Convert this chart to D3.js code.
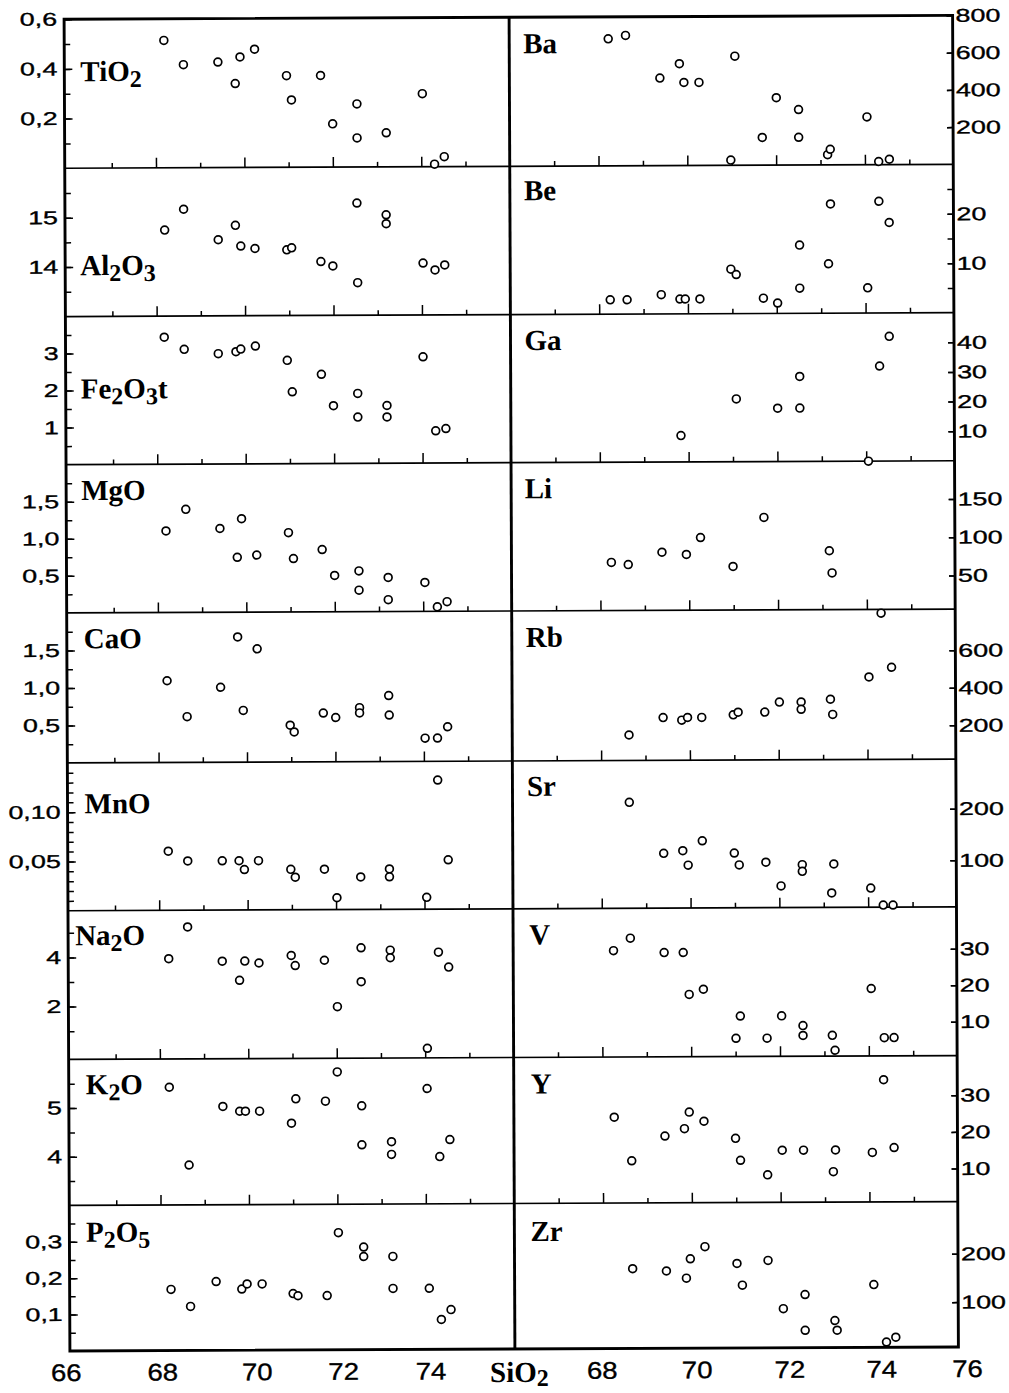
<!DOCTYPE html>
<html>
<head>
<meta charset="utf-8">
<script src="https://d3js.org/d3.v7.min.js"></script>
<style>
  body { margin: 0; background: #fff; }
  svg { display: block; }
</style>
</head>
<body>
<div id="chart"></div>
<script>
// SiO2 (x) against major oxides (left column) and trace elements (right column)
var tio2 = [[68.19,0.513],[68.63,0.415],[69.41,0.425],[69.80,0.338],[69.91,0.445],[70.24,0.476],[70.96,0.369],[71.07,0.271],[71.73,0.369],[72.00,0.174],[72.55,0.254],[72.55,0.117],[73.21,0.137],[74.03,0.294],[74.30,0.010],[74.52,0.040]];
var al2o3 = [[68.19,14.74],[68.62,15.16],[69.40,14.54],[69.79,14.83],[69.91,14.41],[70.23,14.36],[70.95,14.33],[71.06,14.37],[71.72,14.09],[71.99,14.00],[72.54,15.27],[72.55,13.66],[73.20,15.03],[73.20,14.85],[74.03,14.05],[74.30,13.91],[74.52,14.01]];
var fe2o3t = [[68.17,3.43],[68.62,3.10],[69.39,2.98],[69.79,3.03],[69.90,3.10],[70.23,3.18],[70.95,2.79],[71.06,1.94],[71.72,2.41],[71.99,1.56],[72.54,1.89],[72.54,1.25],[73.20,1.56],[73.20,1.25],[74.02,2.87],[74.30,0.87],[74.53,0.93]];
var mgo = [[68.19,1.10],[68.64,1.39],[69.41,1.13],[69.80,0.74],[69.90,1.26],[70.24,0.77],[70.96,1.07],[71.07,0.72],[71.72,0.84],[72.00,0.49],[72.55,0.55],[72.55,0.29],[73.21,0.46],[73.21,0.16],[74.04,0.39],[74.32,0.06],[74.54,0.13]];
var cao = [[68.20,1.09],[68.65,0.61],[69.41,1.00],[69.80,1.67],[69.92,0.69],[70.24,1.51],[70.98,0.49],[71.07,0.40],[71.73,0.65],[72.01,0.59],[72.55,0.72],[72.55,0.65],[73.21,0.88],[73.22,0.62],[74.03,0.31],[74.31,0.31],[74.54,0.46]];
var mno = [[68.21,0.060],[68.65,0.050],[69.43,0.050],[69.81,0.050],[69.93,0.041],[70.25,0.050],[70.98,0.041],[71.08,0.033],[71.74,0.041],[72.02,0.012],[72.56,0.033],[73.21,0.041],[73.21,0.033],[74.05,0.012],[74.31,0.131],[74.54,0.050]];
var na2o = [[68.21,3.93],[68.64,5.22],[69.42,3.82],[69.81,3.04],[69.93,3.82],[70.25,3.74],[70.98,4.04],[71.07,3.63],[71.73,3.84],[72.02,1.95],[72.56,4.34],[72.56,2.96],[73.22,4.24],[73.22,3.93],[74.05,0.24],[74.31,4.15],[74.54,3.54]];
var k2o = [[68.21,5.42],[68.65,3.82],[69.42,5.02],[69.80,4.92],[69.93,4.92],[70.25,4.92],[70.97,4.67],[71.07,5.17],[71.74,5.12],[72.01,5.72],[72.56,5.02],[72.56,4.22],[73.23,4.28],[73.23,4.02],[74.04,5.37],[74.32,3.97],[74.55,4.32]];
var p2o5 = [[68.23,0.168],[68.67,0.121],[69.25,0.189],[69.83,0.168],[69.95,0.182],[70.29,0.182],[70.99,0.155],[71.10,0.149],[71.76,0.149],[72.02,0.322],[72.59,0.282],[72.59,0.256],[73.25,0.256],[73.25,0.168],[74.07,0.168],[74.34,0.082],[74.56,0.109]];

var ba = [[68.23,682],[68.62,700],[69.39,470],[69.83,547],[69.93,446],[70.27,446],[70.98,28],[71.08,586],[71.69,149],[72.01,362],[72.51,298],[72.51,149],[73.16,55],[73.22,84],[74.05,257],[74.31,17],[74.55,29]];
var be = [[68.25,2.9],[68.63,2.9],[69.40,3.9],[69.82,3.0],[69.94,3.0],[70.27,3.0],[70.97,9.0],[71.09,7.9],[71.70,3.1],[72.02,2.1],[72.52,13.8],[72.52,5.1],[73.17,10.0],[73.22,22.1],[74.05,5.1],[74.31,22.6],[74.54,18.3]];
var ga = [[69.83,8.9],[71.08,21.2],[72.01,18.0],[72.51,28.7],[72.51,18.0],[74.05,0],[74.31,32.1],[74.53,42.1]];
var li = [[68.25,69],[68.63,66],[69.39,82],[69.94,79],[70.26,101],[70.99,63],[71.69,127],[73.16,83],[73.22,54]];
var rb = [[68.63,156],[69.40,248],[69.82,234],[69.95,248],[70.27,248],[70.98,261],[71.09,275],[71.69,275],[72.02,328],[72.51,328],[72.51,289],[73.17,342],[73.22,261],[74.04,460],[74.32,800],[74.55,511]];
var sr = [[68.63,215],[69.40,116],[69.83,121],[69.95,93],[70.27,140],[70.99,116],[71.10,93],[71.70,98],[72.04,52],[72.52,93],[72.52,80],[73.18,38],[73.23,94],[74.06,47],[74.34,14],[74.56,14]];
var vEl = [[68.26,29.9],[68.64,33.3],[69.40,29.3],[69.83,29.3],[69.96,17.8],[70.28,19.2],[71.01,5.7],[71.11,11.8],[71.71,5.7],[72.04,11.8],[72.52,9.1],[72.52,6.4],[73.18,6.4],[73.24,2.3],[74.06,19.2],[74.35,5.7],[74.57,5.7]];
var yEl = [[68.26,24.4],[68.65,12.5],[69.40,19.2],[69.84,21.2],[69.95,25.7],[70.28,23.2],[70.99,18.5],[71.10,12.5],[71.71,8.5],[72.04,15.2],[72.52,15.2],[73.19,9.3],[73.24,15.2],[74.07,14.5],[74.33,34.3],[74.56,15.8]];
var zr = [[68.66,172],[69.42,167],[69.87,152],[69.96,192],[70.29,217],[71.01,182],[71.13,137],[71.71,188],[72.05,88],[72.54,117],[72.54,43],[73.21,63],[73.26,43],[74.09,137],[74.37,18],[74.58,28]];

// SiO2 axis ticks and labels
var majorX = [68, 70, 72, 74];
var minorX = [67, 69, 71, 73, 75];
var leftXLabels = [66, 68, 70, 72, 74];
var rightXLabels = [68, 70, 72, 74, 76];

// panel definitions: name pieces ([text, subscript]), y domain, ticks, labelled ticks
var leftPanels = [
  {name: [["TiO",0],["2",1]], data: tio2, domain: [0, 0.6], ticks: [0.1,0.2,0.3,0.4,0.5,0.6], labels: [0.2,0.4,0.6], fmt: ".1f"},
  {name: [["Al",0],["2",1],["O",0],["3",1]], data: al2o3, domain: [13, 16], ticks: [13.5,14,14.5,15,15.5], labels: [14,15], fmt: "d"},
  {name: [["Fe",0],["2",1],["O",0],["3",1],["t",0]], data: fe2o3t, domain: [0, 4], ticks: [0.5,1,1.5,2,2.5,3,3.5], labels: [1,2,3], fmt: "d"},
  {name: [["MgO",0]], data: mgo, domain: [0, 2], ticks: [0.25,0.5,0.75,1,1.25,1.5,1.75], labels: [0.5,1,1.5], fmt: ".1f"},
  {name: [["CaO",0]], data: cao, domain: [0, 2], ticks: [0.25,0.5,0.75,1,1.25,1.5,1.75], labels: [0.5,1,1.5], fmt: ".1f"},
  {name: [["MnO",0]], data: mno, domain: [0, 0.15], ticks: [0.01,0.02,0.03,0.04,0.05,0.06,0.07,0.08,0.09,0.10,0.11,0.12,0.13,0.14], labels: [0.05,0.10], fmt: ".2f"},
  {name: [["Na",0],["2",1],["O",0]], data: na2o, domain: [-0.15, 5.9], ticks: [1,2,3,4,5], labels: [2,4], fmt: "d"},
  {name: [["K",0],["2",1],["O",0]], data: k2o, domain: [3, 6], ticks: [3.5,4,4.5,5,5.5], labels: [4,5], fmt: "d"},
  {name: [["P",0],["2",1],["O",0],["5",1]], data: p2o5, domain: [0, 0.4], ticks: [0.05,0.1,0.15,0.2,0.25,0.3,0.35], labels: [0.1,0.2,0.3], fmt: ".1f"}
];
var rightPanels = [
  {name: [["Ba",0]], data: ba, domain: [0, 800], ticks: [200,400,600,800], labels: [200,400,600,800], fmt: "d"},
  {name: [["Be",0]], data: be, domain: [0, 30], ticks: [5,10,15,20,25], labels: [10,20], fmt: "d"},
  {name: [["Ga",0]], data: ga, domain: [0, 50], ticks: [10,20,30,40], labels: [10,20,30,40], fmt: "d"},
  {name: [["Li",0]], data: li, domain: [6, 200], ticks: [50,100,150], labels: [50,100,150], fmt: "d"},
  {name: [["Rb",0]], data: rb, domain: [20, 820], ticks: [200,400,600], labels: [200,400,600], fmt: "d"},
  {name: [["Sr",0]], data: sr, domain: [10, 296], ticks: [100,200], labels: [100,200], fmt: "d"},
  {name: [["V",0]], data: vEl, domain: [0.7, 41.5], ticks: [10,20,30], labels: [10,20,30], fmt: "d"},
  {name: [["Y",0]], data: yEl, domain: [1, 40.8], ticks: [10,20,30], labels: [10,20,30], fmt: "d"},
  {name: [["Zr",0]], data: zr, domain: [7, 308], ticks: [100,200], labels: [100,200], fmt: "d"}
];

// layout
var width = 1009, height = 1393;
var rowY = [17.3, 166.3, 314.6, 462.7, 611, 761, 908.8, 1057.5, 1203.5, 1349];
var colX = [67, 512, 955.5];
var leftNamePos = [[16,62],[15,107],[15,82],[15,35.5],[17,35.5],[17,50.5],[7,34.5],[17,35],[16.5,36.5]];
var rightNamePos = [[14,36],[14,34],[14,35.5],[13.5,35.7],[14,36],[14.5,35],[16,35.6],[17,36],[16,37.6]];
var leftLabelNudge = [-10, -2, 4, 2, 1];
var rightLabelNudge = [-5, 1, 5, 8, 5];
var tickFont = "'Liberation Sans', Arial, sans-serif";
var nameFont = "'Liberation Serif', 'Times New Roman', serif";
var stretch = 1.45;

var locale = d3.formatLocale({decimal: ",", thousands: "", grouping: [3], currency: ["", ""]});

var svg = d3.select("#chart").append("svg")
  .attr("width", width)
  .attr("height", height);

// the original scan sits slightly askew
var g = svg.append("g").attr("transform", "rotate(-0.25,511,683)");

var xLeft = d3.scaleLinear().domain([66, 76]).range([69.8, 512]);
var xRight = d3.scaleLinear().domain([66, 76]).range([512, 956]);

function writeName(sel, parts, sub) {
  var shift = 0;
  parts.forEach(function(p) {
    var target = p[1] ? sub : 0;
    var t = sel.append("tspan").text(p[0]).attr("dy", target - shift);
    if (p[1]) t.attr("font-size", 24);
    shift = target;
  });
}

function styleTickText(sel, size) {
  sel.attr("fill", "#000")
    .attr("stroke", "#000")
    .attr("stroke-width", 0.35)
    .style("font-family", tickFont)
    .style("font-size", size);
}

function drawPanel(p, i, side) {
  var x = side == 0 ? xLeft : xRight;
  var top = rowY[i], bottom = rowY[i + 1];
  var y = d3.scaleLinear().domain(p.domain).range([bottom, top]);
  var fmt = locale.format(p.fmt);
  var edge = side == 0 ? colX[0] : colX[2];

  // y ticks, pointing into the panel
  var axisG, lblG;
  if (side == 0) {
    axisG = g.append("g").attr("transform", "translate(" + edge + ",0)")
      .call(d3.axisLeft(y).tickValues(p.ticks).tickSizeInner(-6).tickSizeOuter(0).tickFormat(""));
    lblG = g.append("g").attr("transform", "translate(" + edge + ",0)")
      .call(d3.axisLeft(y).tickValues(p.labels).tickSizeInner(-8).tickSizeOuter(0).tickPadding(7).tickFormat(fmt));
    lblG.selectAll("text").attr("x", -7 / stretch);
  } else {
    axisG = g.append("g").attr("transform", "translate(" + edge + ",0)")
      .call(d3.axisRight(y).tickValues(p.ticks).tickSizeInner(-6).tickSizeOuter(0).tickFormat(""));
    lblG = g.append("g").attr("transform", "translate(" + edge + ",0)")
      .call(d3.axisRight(y).tickValues(p.labels).tickSizeInner(-6).tickSizeOuter(0).tickPadding(3).tickFormat(fmt));
    lblG.selectAll("text").attr("x", 3 / stretch);
  }
  [axisG, lblG].forEach(function(a) {
    a.select(".domain").remove();
    a.selectAll("line").attr("stroke", "#000").attr("stroke-width", 1.5);
  });
  lblG.selectAll("text").attr("transform", "scale(" + stretch + ",1)");
  styleTickText(lblG.selectAll("text"), "18.5px");

  // SiO2 ticks on the lower edge (not on the last row)
  if (i < 8) {
    [[majorX, 10], [minorX, 5]].forEach(function(t) {
      var a = g.append("g").attr("transform", "translate(0," + bottom + ")")
        .call(d3.axisBottom(x).tickValues(t[0]).tickSizeInner(-t[1]).tickSizeOuter(0).tickFormat(""));
      a.select(".domain").remove();
      a.selectAll("line").attr("stroke", "#000").attr("stroke-width", 1.5);
    });
  }

  // panel name
  var pos = side == 0 ? leftNamePos[i] : rightNamePos[i];
  var name = g.append("text")
    .attr("x", (side == 0 ? colX[0] : colX[1]) + pos[0])
    .attr("y", top + pos[1])
    .attr("font-family", nameFont)
    .attr("font-weight", "bold")
    .attr("font-size", 29)
    .attr("fill", "#000");
  writeName(name, p.name, 6);

  p.y = y;
  p.x = x;
}

leftPanels.forEach(function(p, i) { drawPanel(p, i, 0); });
rightPanels.forEach(function(p, i) { drawPanel(p, i, 1); });

// frame, divider and row separators
g.append("g").selectAll("line")
  .data(rowY.slice(1, 9))
  .enter()
  .append("line")
  .attr("x1", colX[0]).attr("x2", colX[2])
  .attr("y1", function(d) { return d; })
  .attr("y2", function(d) { return d; })
  .attr("stroke", "#000")
  .attr("stroke-width", 1.7);

g.append("line")
  .attr("x1", colX[1]).attr("x2", colX[1])
  .attr("y1", rowY[0]).attr("y2", rowY[9])
  .attr("stroke", "#000")
  .attr("stroke-width", 2.9);

g.append("rect")
  .attr("x", colX[0]).attr("y", rowY[0])
  .attr("width", colX[2] - colX[0])
  .attr("height", rowY[9] - rowY[0])
  .attr("fill", "none")
  .attr("stroke", "#000")
  .attr("stroke-width", 2.9);

// bottom SiO2 labels
[[xLeft, leftXLabels, leftLabelNudge], [xRight, rightXLabels, rightLabelNudge]].forEach(function(s) {
  var a = g.append("g").attr("transform", "translate(3," + rowY[9] + ")")
    .call(d3.axisBottom(s[0]).tickValues(s[1]).tickSize(0).tickPadding(13).tickFormat(d3.format("d")));
  a.select(".domain").remove();
  a.selectAll("text")
    .attr("x", function(d, k) { return s[2][k] / 1.15; })
    .attr("transform", "scale(1.15,1)");
  styleTickText(a.selectAll("text"), "24px");
});

var sio2 = g.append("text")
  .attr("x", 487)
  .attr("y", 1382)
  .attr("font-family", nameFont)
  .attr("font-weight", "bold")
  .attr("font-size", 29)
  .attr("fill", "#000");
writeName(sio2, [["SiO",0],["2",1]], 4);

// sample points, drawn last so circles on the edges sit over the lines
leftPanels.concat(rightPanels).forEach(function(p) {
  g.append("g").selectAll("circle")
    .data(p.data)
    .enter()
    .append("circle")
    .attr("cx", function(d) { return p.x(d[0]); })
    .attr("cy", function(d) { return p.y(d[1]); })
    .attr("r", 3.9)
    .attr("fill", "#fff")
    .attr("stroke", "#000")
    .attr("stroke-width", 1.7);
});
</script>
</body>
</html>
